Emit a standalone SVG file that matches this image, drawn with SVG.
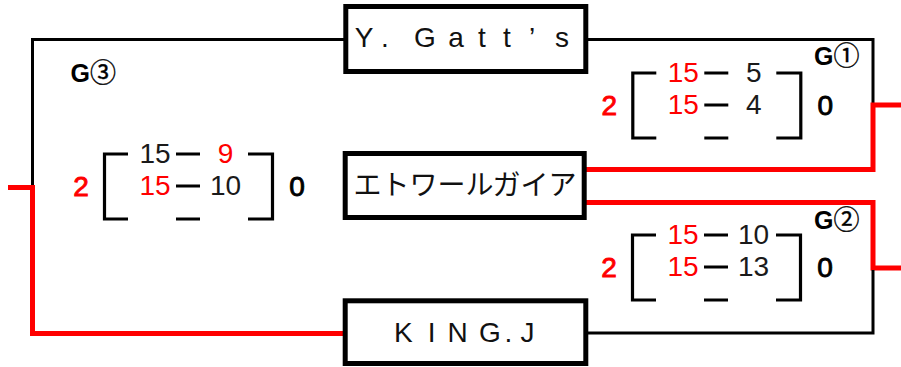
<svg xmlns="http://www.w3.org/2000/svg" width="901" height="367" viewBox="0 0 901 367">
<style>
.bk{fill:none;stroke:#000;stroke-width:3;stroke-linejoin:miter;stroke-linecap:butt}
.rd{fill:none;stroke:#ff0000;stroke-width:5;stroke-linejoin:miter;stroke-linecap:butt}
.box{fill:#fff;stroke:#000;stroke-width:5}
.br{fill:none;stroke:#000;stroke-width:3.2;stroke-linecap:butt;stroke-linejoin:miter}
.lat{font-family:"Liberation Sans",Arial,sans-serif;font-size:28px;fill:#111}
.jp{font-family:"Noto Sans CJK JP",sans-serif;font-size:28px;fill:#111}
.sc{font-family:"Liberation Sans",Arial,sans-serif;font-size:28px;text-anchor:middle;fill:#1a1a1a}
.tot{font-family:"Liberation Sans",Arial,sans-serif;font-size:28px;text-anchor:middle;stroke-width:0.9}
.gl{font-family:"Liberation Sans",Arial,sans-serif;font-size:25px;font-weight:bold;fill:#000}
.cn{font-family:"Noto Sans CJK JP",sans-serif;font-size:26px;font-weight:normal;fill:#000;stroke:#000;stroke-width:0.4}
.r{fill:#ff0000}
.tot.r{stroke:#ff0000}
.tot.k{fill:#000;stroke:#000}
</style>
<defs>
<g id="brk">
<path class="br" d="M128,154 H104.5 V219 H128 M176,154 H200 M176,186 H200 M176,219 H200 M248,154 H272.5 V219 H248"/>
</g>
</defs>
<g id="connectors">
<polyline class="bk" points="32.5,186 32.5,39.5 345,39.5"/>
<polyline class="rd" points="8,187.5 32.5,187.5 32.5,333.5 345,333.5"/>
<polyline class="bk" points="586,39.5 873,39.5 873,103"/>
<polyline class="rd" points="586,169.5 873,169.5 873,105 901,105"/>
<polyline class="rd" points="586,202.5 873,202.5 873,268 901,268"/>
<polyline class="bk" points="586,333 873,333 873,270"/>
</g>
<g id="team-ygatts">
<rect class="box" x="345.8" y="6.5" width="240" height="65"/>
<text class="lat" text-anchor="middle" x="364 385 405 425 456 482 507 532 562" y="47">Y. Gatt’s</text>
</g>
<g id="team-etoile">
<rect class="box" x="345.2" y="153.5" width="239" height="64"/>
<text class="jp" text-anchor="middle" x="465" y="195">エトワールガイア</text>
</g>
<g id="team-kingj">
<rect class="box" x="345.2" y="300.8" width="240.6" height="62.7"/>
<text class="lat" text-anchor="middle" x="403.3 431.7 457.5 490 508.3 527.5" y="342">KING.J</text>
</g>
<g id="game3">
<use href="#brk"/>
<text class="sc" x="155" y="162.5">15</text>
<text class="sc r" x="225.5" y="162.5">9</text>
<text class="sc r" x="155" y="194.5">15</text>
<text class="sc" x="225.5" y="194.5">10</text>
<text class="tot r" x="81" y="195.5">2</text>
<text class="tot k" x="297" y="195.5">0</text>
<text x="70.5" y="81.5"><tspan class="gl">G</tspan><tspan class="cn">③</tspan></text>
</g>
<g id="game1">
<g transform="translate(528.3,-81)">
<use href="#brk"/>
<text class="sc r" x="155" y="162.5">15</text>
<text class="sc" x="225.5" y="162.5">5</text>
<text class="sc r" x="155" y="194.5">15</text>
<text class="sc" x="225.5" y="194.5">4</text>
<text class="tot r" x="81" y="195.5">2</text>
<text class="tot k" x="297" y="195.5">0</text>
</g>
<text x="814" y="64.5"><tspan class="gl">G</tspan><tspan class="cn">①</tspan></text>
</g>
<g id="game2">
<g transform="translate(528,81)">
<use href="#brk"/>
<text class="sc r" x="155" y="162.5">15</text>
<text class="sc" x="225.5" y="162.5">10</text>
<text class="sc r" x="155" y="194.5">15</text>
<text class="sc" x="225.5" y="194.5">13</text>
<text class="tot r" x="81" y="195.5">2</text>
<text class="tot k" x="297" y="195.5">0</text>
</g>
<text x="814" y="229"><tspan class="gl">G</tspan><tspan class="cn">②</tspan></text>
</g>
</svg>
